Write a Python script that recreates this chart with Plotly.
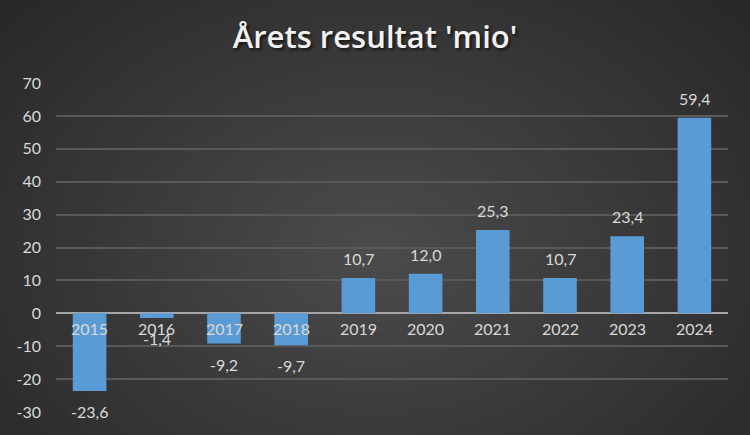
import base64, struct, zlib
import numpy as np
import plotly.graph_objects as go

years = ["2015", "2016", "2017", "2018", "2019", "2020", "2021", "2022", "2023", "2024"]
values = [-23.6, -1.4, -9.2, -9.7, 10.7, 12.0, 25.3, 10.7, 23.4, 59.4]
tick_vals = [-30, -20, -10, 0, 10, 20, 30, 40, 50, 60, 70]
tick_text = ["-30", "-20", "-10", "0", "10", "20", "30", "40", "50", "60", "70"]
value_text = [("%.1f" % v).replace(".", ",") for v in values]

W, H = 750, 435
L, R, T, B = 56, 22, 83, 23
FONT = "Lato, Open Sans, sans-serif"


def make_png(w, h, cx, cy):
    yy, xx = np.mgrid[0:h, 0:w]
    d = np.sqrt(((xx - cx) / (w * 0.75)) ** 2 + ((yy - cy) / (h * 0.95)) ** 2)
    d = np.clip(d, 0, 1)
    c = (76 - (76 - 36) * d).astype(np.uint8)
    img = np.stack([c, c, c], axis=-1)
    raw = b"".join(b"\x00" + img[r].tobytes() for r in range(h))

    def chunk(t, data):
        return struct.pack(">I", len(data)) + t + data + struct.pack(">I", zlib.crc32(t + data) & 0xffffffff)

    png = b"\x89PNG\r\n\x1a\n" + chunk(b"IHDR", struct.pack(">IIBBBBB", w, h, 8, 2, 0, 0, 0)) \
        + chunk(b"IDAT", zlib.compress(raw, 9)) + chunk(b"IEND", b"")
    return "data:image/png;base64," + base64.b64encode(png).decode()


bg = make_png(375, 218, 187, 125)

fig = go.Figure()
fig.add_trace(go.Bar(
    x=years, y=values,
    marker=dict(color="#5b9bd5", line=dict(width=0)),
    width=0.5,
))

for i, yr in enumerate(years):
    fig.add_annotation(x=i, y=0, xref="x", yref="y", text=yr, showarrow=False,
                       yanchor="top", yshift=-4,
                       font=dict(family=FONT, size=16, color="#d9d9d9"))

for i, (v, t) in enumerate(zip(values, value_text)):
    pos = v >= 0
    fig.add_annotation(x=i, y=v, xref="x", yref="y", text=t, showarrow=False,
                       yanchor="bottom" if pos else "top", yshift=8 if pos else -9,
                       font=dict(family=FONT, size=16, color="#d9d9d9"))

pw, ph = W - L - R, H - T - B
fig.add_layout_image(dict(source=bg, xref="paper", yref="paper",
                          x=-L / pw, y=1 + T / ph, sizex=W / pw, sizey=H / ph,
                          sizing="stretch", layer="below", xanchor="left", yanchor="top"))

fig.update_layout(
    width=W, height=H,
    margin=dict(l=L, r=R, t=T, b=B, autoexpand=False),
    paper_bgcolor="#3a3a3a", plot_bgcolor="rgba(0,0,0,0)",
    showlegend=False,
    title=dict(text="Årets resultat 'mio'", x=0.5, xanchor="center", y=0.915, yanchor="middle",
               font=dict(family="Open Sans, Lato, sans-serif", size=31, weight=600, color="#f2f2f2",
                         shadow="2px 2px 3px rgba(0,0,0,0.6)")),
    xaxis=dict(type="category", range=[-0.5, 9.5], showticklabels=False, showgrid=False,
               zeroline=False, showline=False, ticks=""),
    yaxis=dict(range=[-30, 70], tickvals=tick_vals, ticktext=tick_text,
               showgrid=True, gridcolor="#595959", gridwidth=1.5,
               zeroline=True, zerolinecolor="#a6a6a6", zerolinewidth=2,
               showline=False, ticks="", ticklabelstandoff=14,
               tickfont=dict(family=FONT, size=16, color="#d9d9d9")),
    bargap=0.5,
)

fig.write_html("out.html", config={"displayModeBar": False},
               post_script="document.body.style.margin='0';")
